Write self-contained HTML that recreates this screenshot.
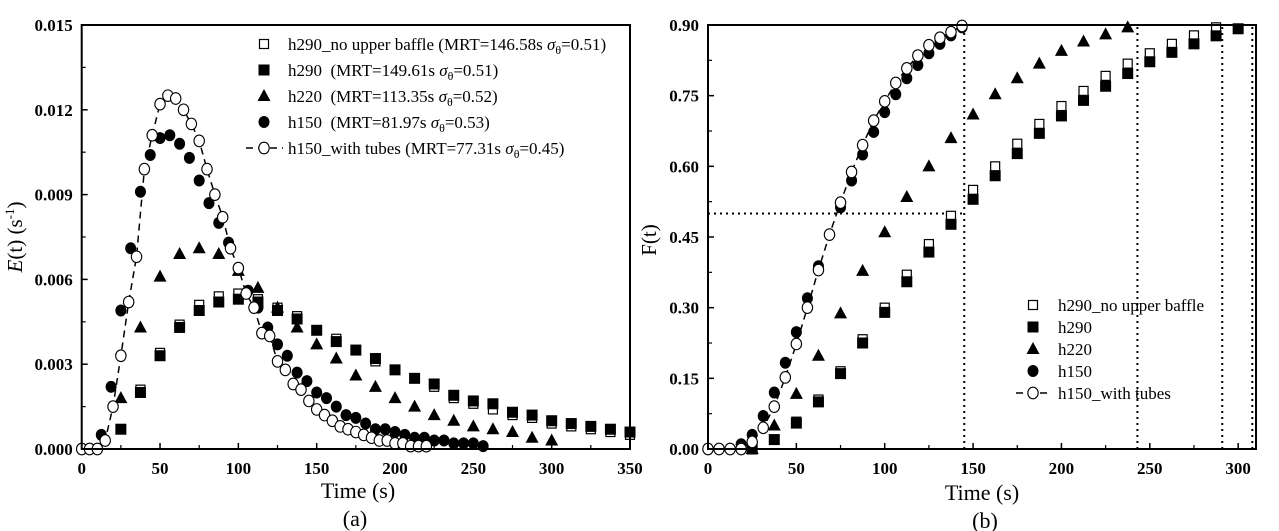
<!DOCTYPE html>
<html><head><meta charset="utf-8">
<style>
html,body{margin:0;padding:0;background:#fff;}
svg{display:block;font-family:"Liberation Serif",serif;}
.tick{font-weight:bold;font-size:17px;}
.leg{font-size:17px;}
</style></head>
<body>
<svg id="chart" width="1279" height="531" xmlns="http://www.w3.org/2000/svg"></svg>
<script>
// ---------- Data: panel (a) E(t) ----------
const aSqOpenX=[37.5,50,62.5,75,87.5,100,112.5,125,137.5,150,162.5,175,187.5,200,212.5,225,237.5,250,262.5,275,287.5,300,312.5,325,337.5,350];
const aSqOpenY=[.0021,.0034,.0044,.0051,.0054,.0055,.0053,.0050,.0047,.0042,.0039,.0035,.0031,.0028,.0025,.0022,.0018,.0016,.0014,.0012,.0011,.0009,.0008,.0007,.0006,.0005];
const aSqX=[25,37.5,50,62.5,75,87.5,100,112.5,125,137.5,150,162.5,175,187.5,200,212.5,225,237.5,250,262.5,275,287.5,300,312.5,325,337.5,350];
const aSqY=[.0007,.0020,.0033,.0043,.0049,.0052,.0053,.0052,.0049,.0046,.0042,.0038,.0035,.0032,.0028,.0025,.0023,.0019,.0017,.0016,.0013,.0012,.0010,.0009,.0008,.0007,.0006];
const aTriX=[25,37.5,50,62.5,75,87.5,100,112.5,125,137.5,150,162.5,175,187.5,200,212.5,225,237.5,250,262.5,275,287.5,300];
const aTriY=[.0018,.0043,.0061,.0069,.0071,.0069,.0063,.0057,.0050,.0043,.0037,.0032,.0026,.0022,.0018,.0015,.0012,.0010,.0008,.0007,.0006,.0004,.0003];
const aCirX=[12.5,18.75,25,31.25,37.5,43.75,50,56.25,62.5,68.75,75,81.25,87.5,93.75,100,106.25,112.5,118.75,125,131.25,137.5,143.75,150,156.25,162.5,168.75,175,181.25,187.5,193.75,200,206.25,212.5,218.75,225,231.25,237.5,243.75,250,256.25];
const aCirY=[.0005,.0022,.0049,.0071,.0091,.0104,.0110,.0111,.0108,.0103,.0095,.0087,.0080,.0073,.0064,.0056,.0050,.0043,.0037,.0033,.0027,.0024,.0020,.0018,.0015,.0012,.0011,.0009,.0007,.0007,.0006,.0005,.0004,.0004,.0003,.0003,.0002,.0002,.0002,.0001];
const aTubX=[0,5,10,15,20,25,30,35,40,45,50,55,60,65,70,75,80,85,90,95,100,105,110,115,120,125,130,135,140,145,150,155,160,165,170,175,180,185,190,195,200,205,210,215,220];
const aTubY=[0,0,0,.0003,.0015,.0033,.0052,.0068,.0099,.0111,.0122,.0125,.0124,.0120,.0115,.0109,.0099,.0090,.0082,.0071,.0064,.0055,.0050,.0041,.0040,.0031,.0028,.0023,.0021,.0017,.0014,.0012,.0010,.0008,.0007,.0006,.0005,.0004,.0003,.0003,.0002,.0002,.0001,.0001,.0001];
const aXTicks=[0,50,100,150,200,250,300,350];
const aYTicks=[0,.003,.006,.009,.012,.015];
const aYLabels=["0.000","0.003","0.006","0.009","0.012","0.015"];
// ---------- Data: panel (b) F(t) ----------
const bSqOpenX=[37.5,50,62.5,75,87.5,100,112.5,125,137.5,150,162.5,175,187.5,200,212.5,225,237.5,250,262.5,275,287.5];
const bSqOpenY=[.02,.058,.105,.165,.233,.30,.37,.435,.495,.55,.60,.648,.69,.728,.76,.792,.818,.84,.86,.878,.895];
const bSqX=[25,37.5,50,62.5,75,87.5,100,112.5,125,137.5,150,162.5,175,187.5,200,212.5,225,237.5,250,262.5,275,287.5,300];
const bSqY=[0,.02,.055,.10,.16,.225,.29,.355,.418,.477,.53,.58,.627,.67,.707,.74,.77,.797,.822,.842,.86,.877,.892];
const bTriX=[25,37.5,50,62.5,75,87.5,100,112.5,125,137.5,150,162.5,175,187.5,200,212.5,225,237.5];
const bTriY=[0,.05,.117,.198,.288,.378,.46,.535,.60,.66,.71,.753,.787,.818,.845,.865,.88,.895];
const bCirX=[0,6.25,12.5,18.75,25,31.25,37.5,43.75,50,56.25,62.5,75,81.25,87.5,93.75,100,106.25,112.5,118.75,125,131.25,137.5,143.75];
const bCirY=[0,0,0,.01,.03,.07,.12,.183,.248,.32,.388,.513,.57,.625,.673,.715,.753,.787,.815,.84,.86,.878,.895];
const bTubX=[0,6.25,12.5,18.75,25,31.25,37.5,43.75,50,56.25,62.5,68.75,75,81.25,87.5,93.75,100,106.25,112.5,118.75,125,131.25,137.5,143.75];
const bTubY=[0,0,0,0,.015,.045,.09,.152,.223,.30,.38,.455,.523,.588,.645,.697,.738,.777,.808,.835,.857,.873,.885,.898];
const bXTicks=[0,50,100,150,200,250,300];
const bYTicks=[0,.15,.30,.45,.60,.75,.90];
const bYLabels=["0.00","0.15","0.30","0.45","0.60","0.75","0.90"];
const bVLines=[145,243,291,308];
const bHalf=0.5;

const NS="http://www.w3.org/2000/svg";
const svg=document.getElementById('chart');
function mk(tag,attrs,parent){const e=document.createElementNS(NS,tag);for(const k in attrs)e.setAttribute(k,attrs[k]);(parent||svg).appendChild(e);return e;}

function marker(g,type,cx,cy){
  let e;
  if(type==='sqo'){e=mk('rect',{x:cx-4.5,y:cy-4.5,width:9,height:9,fill:'#fff',stroke:'#000','stroke-width':1.2},g);}
  else if(type==='sq'){e=mk('rect',{x:cx-5.5,y:cy-5.5,width:11,height:11,fill:'#000'},g);}
  else if(type==='tri'){e=mk('polygon',{points:`${cx},${cy-7} ${cx-6.5},${cy+5} ${cx+6.5},${cy+5}`,fill:'#000'},g);}
  else if(type==='cir'){e=mk('ellipse',{cx:cx,cy:cy,rx:5.5,ry:6,fill:'#000'},g);}
  else {e=mk('ellipse',{cx:cx,cy:cy,rx:5.2,ry:5.8,fill:'#fff',stroke:'#000','stroke-width':1.1},g);}
  return e;
}

function panel(p){
  const X=v=>p.x0+(v-p.xmin)/(p.xmax-p.xmin)*(p.x1-p.x0);
  const Y=v=>p.y0-(v-p.ymin)/(p.ymax-p.ymin)*(p.y0-p.y1);
  const g=mk('g',{});
  
  
  p.xt.forEach((t,i)=>{
    const l=mk('line',{x1:X(t),x2:X(t),y1:p.y0,y2:p.y0-6,stroke:'#000','stroke-width':1.5},g);
    
    
    if(i<p.xt.length-1){const m=(t+p.xt[i+1])/2;mk('line',{x1:X(m),x2:X(m),y1:p.y0,y2:p.y0-4,stroke:'#000','stroke-width':1.2},g);}
    const tx=mk('text',{x:X(t),y:p.y0+25,'text-anchor':'middle',class:'tick'},g);
    tx.textContent=String(t);
    
    
  });
  p.yt.forEach((t,i)=>{
    const l=mk('line',{x1:p.x0,x2:p.x0+6,y1:Y(t),y2:Y(t),stroke:'#000','stroke-width':1.5},g);
    
    
    if(i<p.yt.length-1){const m=(t+p.yt[i+1])/2;mk('line',{x1:p.x0,x2:p.x0+4,y1:Y(m),y2:Y(m),stroke:'#000','stroke-width':1.2},g);}
    const tx=mk('text',{x:p.x0-9,y:Y(t)+6,'text-anchor':'end',class:'tick'},g);
    tx.textContent=p.yl[i];
    
    
  });
  if(p.extra)p.extra(g,X,Y);
  p.series.forEach(s=>{
    const sg=mk('g',{},g);
    
    
    if(s.line){
      const d=s.xs.map((v,i)=>(i?'L':'M')+X(v).toFixed(1)+','+Y(s.ys[i]).toFixed(1)).join('');
      const pth=mk('path',{d:d,fill:'none',stroke:'#000','stroke-width':1.5,'stroke-dasharray':'7,5'},sg);
      
      
    }
    s.xs.forEach((v,i)=>{
      const m=marker(sg,s.type,X(v),Y(s.ys[i]));
      
      
    });
  });
  const fr=mk('rect',{x:p.x0,y:p.y1,width:p.x1-p.x0,height:p.y0-p.y1,fill:'none',stroke:'#000','stroke-width':2},g);
  
  
}

panel({name:'panel-a-et',x0:81.7,x1:630,y0:449,y1:25,xmin:0,xmax:350,ymin:0,ymax:0.015,xt:aXTicks,yt:aYTicks,yl:aYLabels,
 series:[{name:'a-h290-no-upper-baffle',type:'sqo',xs:aSqOpenX,ys:aSqOpenY},
 {name:'a-h290',type:'sq',xs:aSqX,ys:aSqY},
 {name:'a-h220',type:'tri',xs:aTriX,ys:aTriY},
 {name:'a-h150',type:'cir',xs:aCirX,ys:aCirY},
 {name:'a-h150-with-tubes',type:'cio',xs:aTubX,ys:aTubY,line:true}]});

panel({name:'panel-b-ft',x0:708,x1:1256,y0:449,y1:25,xmin:0,xmax:310.1,ymin:0,ymax:0.9,xt:bXTicks,yt:bYTicks,yl:bYLabels,
 extra:(g,X,Y)=>{
   const h=mk('line',{x1:X(0),x2:X(bVLines[0]),y1:Y(bHalf),y2:Y(bHalf),stroke:'#000','stroke-width':2,'stroke-dasharray':'2,4'},g);
   
   
   bVLines.forEach(v=>{
     const l=mk('line',{x1:X(v),x2:X(v),y1:Y(0),y2:Y(0.9),stroke:'#000','stroke-width':2,'stroke-dasharray':'2,4'},g);
     
     
   });
 },
 series:[{name:'b-h290-no-upper-baffle',type:'sqo',xs:bSqOpenX,ys:bSqOpenY},
 {name:'b-h290',type:'sq',xs:bSqX,ys:bSqY},
 {name:'b-h220',type:'tri',xs:bTriX,ys:bTriY},
 {name:'b-h150',type:'cir',xs:bCirX,ys:bCirY},
 {name:'b-h150-with-tubes',type:'cio',xs:bTubX,ys:bTubY,line:true}]});

function legend(name,sx,tx,rows,ys,dashL){
  const g=mk('g',{});
  
  
  const types=['sqo','sq','tri','cir','cio'];
  rows.forEach((r,i)=>{
    const e=mk('g',{},g);
    
    
    if(i===4){mk('line',{x1:sx-dashL,x2:sx+dashL,y1:ys[i],y2:ys[i],stroke:'#000','stroke-width':1.5,'stroke-dasharray':'7,5','stroke-dashoffset':'-1'},e);}
    marker(e,types[i],sx,ys[i]);
    const t=mk('text',{x:tx,y:ys[i]+6,class:'leg'},e);
    t.innerHTML=r;
  });
}
const sig='<tspan font-style="italic">σ</tspan><tspan font-size="12" dy="4">θ</tspan><tspan dy="-4">';
legend('legend-a',264,288,[
 'h290_no upper baffle (MRT=146.58s '+sig+'=0.51)</tspan>',
 'h290&#160; (MRT=149.61s '+sig+'=0.51)</tspan>',
 'h220&#160; (MRT=113.35s '+sig+'=0.52)</tspan>',
 'h150&#160; (MRT=81.97s '+sig+'=0.53)</tspan>',
 'h150_with tubes (MRT=77.31s '+sig+'=0.45)</tspan>'],[44,70,96,122,148],19);
legend('legend-b',1033,1058,['h290_no upper baffle','h290','h220','h150','h150_with tubes'],[305,327,349,371,393],18);

let t=mk('text',{x:358,y:498,'text-anchor':'middle','font-size':22});t.textContent='Time (s)';

t=mk('text',{x:982,y:500,'text-anchor':'middle','font-size':22});t.textContent='Time (s)';

t=mk('text',{x:355,y:526,'text-anchor':'middle','font-size':22});t.textContent='(a)';

t=mk('text',{x:985,y:528,'text-anchor':'middle','font-size':22});t.textContent='(b)';

t=mk('text',{x:0,y:0,'text-anchor':'middle','font-size':21,transform:'translate(22,237) rotate(-90)'});
t.innerHTML='<tspan font-style="italic">E</tspan>(t) (s<tspan font-size="13" dy="-8">-1</tspan><tspan dy="8">)</tspan>';

t=mk('text',{x:0,y:0,'text-anchor':'middle','font-size':21,transform:'translate(656,240) rotate(-90)'});
t.textContent='F(t)';

</script>
</body></html>
